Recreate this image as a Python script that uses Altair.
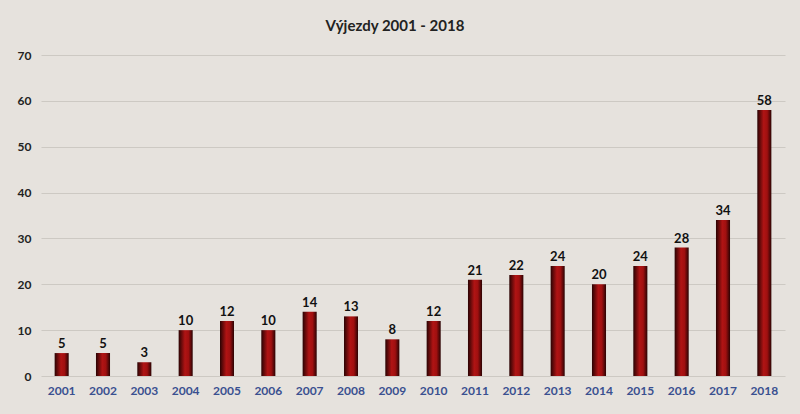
import altair as alt
import pandas as pd

years = [str(y) for y in range(2001, 2019)]
values = [5, 5, 3, 10, 12, 10, 14, 13, 8, 12, 21, 22, 24, 20, 24, 28, 34, 58]

df = pd.DataFrame({"rok": years, "pocet": values})

grad = alt.Gradient(
    gradient="linear",
    stops=[
        alt.GradientStop(color="#2a0303", offset=0),
        alt.GradientStop(color="#b01414", offset=0.45),
        alt.GradientStop(color="#a01010", offset=0.7),
        alt.GradientStop(color="#2a0303", offset=1),
    ],
    x1=0, x2=1, y1=0, y2=0,
)

base = alt.Chart(df).encode(
    x=alt.X("rok:O", sort=years, title=None,
            scale=alt.Scale(paddingInner=0.66, paddingOuter=0.33),
            axis=alt.Axis(labelAngle=0, labelColor="#3a5090", labelFontSize=12,
                          labelFont="Lato", labelFontWeight="bold", ticks=False,
                          domain=False, labelPadding=9)),
    y=alt.Y("pocet:Q", title=None,
            scale=alt.Scale(domain=[0, 70]),
            axis=alt.Axis(values=list(range(0, 71, 10)), labelColor="#222222",
                          labelFontSize=12, labelFont="Lato", labelFontWeight="bold",
                          ticks=False, domain=False, labelPadding=10,
                          gridColor="#cdc9c3", gridWidth=1)),
)

bars = base.mark_bar(color=grad)
labels = base.mark_text(dy=-9, fontSize=13, fontWeight="bold", font="Lato",
                        color="#111111").encode(text="pocet:Q")

chart = (bars + labels).properties(
    width=744, height=321,
    background="#e6e2dd",
    padding={"left": 41, "top": 55, "right": 15, "bottom": 38},
    autosize=alt.AutoSizeParams(type="none"),
    title=alt.TitleParams("Výjezdy 2001 - 2018", font="Lato", fontSize=15,
                          fontWeight="bold", color="#222222", offset=15, dx=-18),
).configure_view(stroke=None)

chart.save("out.html", embed_options={"renderer": "svg", "actions": False})
